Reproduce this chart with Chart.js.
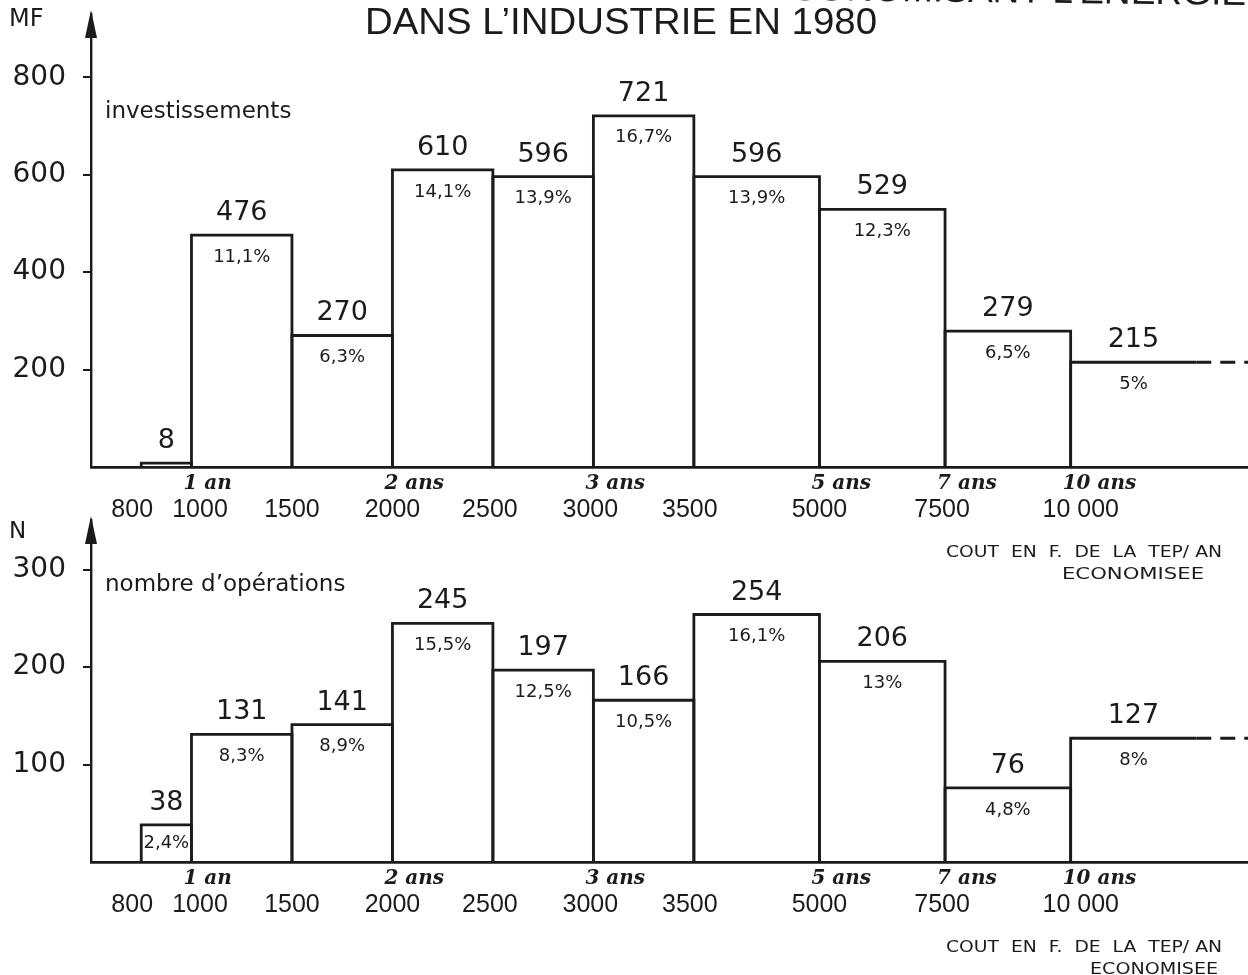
<!DOCTYPE html>
<html>
<head>
<meta charset="utf-8">
<script src="https://cdn.jsdelivr.net/npm/chart.js@4.4.1/dist/chart.umd.min.js"></script>
<style>
  html, body { margin: 0; padding: 0; background: #fff; }
  #wrap { position: relative; width: 1248px; height: 975px; overflow: hidden; background: #fff; }
  canvas { position: absolute; left: 0; }
  #invChart { top: 0; }
  #opChart { top: 470px; }
</style>
</head>
<body>
<div id="wrap">
  <canvas id="invChart" width="1248" height="600"></canvas>
  <canvas id="opChart" width="1248" height="505"></canvas>
</div>
<script>
// cout en F de la TEP/an economisee : bornes basses des classes
const costEdges = ["800", "1000", "1500", "2000", "2500", "3000", "3500", "5000", "7500", "10 000"];
const paybackLabels = ["", "1 an", "", "2 ans", "", "3 ans", "", "5 ans", "7 ans", "10 ans"];

// investissements (MF)
const investValues = [8, 476, 270, 610, 596, 721, 596, 529, 279, 215];
const investShares = ["", "11,1%", "6,3%", "14,1%", "13,9%", "16,7%", "13,9%", "12,3%", "6,5%", "5%"];
const investTicks = [200, 400, 600, 800];

// nombre d'operations (N)
const opsValues = [38, 131, 141, 245, 197, 166, 254, 206, 76, 127];
const opsShares = ["2,4%", "8,3%", "8,9%", "15,5%", "12,5%", "10,5%", "16,1%", "13%", "4,8%", "8%"];
const opsTicks = [100, 200, 300];

// layout: width of each class on the (broken) horizontal axis, and label nudges
const slotWidths = [1, 2, 2, 2, 2, 2, 2.5, 2.5, 2.5, 2.5];
const labelNudge = [-0.18, 0.17, 0, 0, -0.06, -0.06, -0.08, 0, -0.06, 0.2];
const slotEdges = [0];
slotWidths.forEach((w) => slotEdges.push(slotEdges[slotEdges.length - 1] + w));
const X_MIN = -1, X_MAX = 22.03;
const INK = "#1b1b1b";

function barDatasets(values) {
  return values.map((v, i) => {
    const x0 = slotEdges[i], x1 = slotEdges[i + 1];
    const last = i === values.length - 1;
    const pts = [{ x: x0, y: 0 }, { x: x0, y: v }, { x: x1, y: v }];
    pts.push(last ? { x: X_MAX, y: v } : { x: x1, y: 0 });
    return {
      data: pts,
      showLine: true,
      fill: false,
      borderColor: INK,
      borderWidth: 2.8,
      pointRadius: 0,
      clip: false,
      segment: {
        borderDash: (ctx) => (last && ctx.p0DataIndex === 2 ? [15, 9] : undefined),
      },
    };
  });
}

function fitText(ctx, text, x, y, width) {
  const w = ctx.measureText(text).width;
  ctx.save();
  ctx.translate(x, y);
  ctx.scale(width / w, 1);
  ctx.fillText(text, 0, 0);
  ctx.restore();
}

const histoLabels = {
  id: "histoLabels",
  afterDraw(chart, args, o) {
    const { ctx, chartArea, scales } = chart;
    const x = scales.x, y = scales.y;
    ctx.save();
    ctx.fillStyle = INK;
    ctx.textBaseline = "middle";
    ctx.textAlign = "center";

    // values above, shares inside
    o.values.forEach((v, i) => {
      const cx = (x.getPixelForValue(slotEdges[i]) + x.getPixelForValue(slotEdges[i + 1])) / 2;
      const top = y.getPixelForValue(v);
      const h = y.getPixelForValue(0) - top;
      ctx.font = '27px "DejaVu Sans"';
      ctx.fillText(String(v), cx, top - 22);
      if (o.shares[i]) {
        ctx.font = '18px "DejaVu Sans"';
        ctx.fillText(o.shares[i], cx, top + Math.min(22, h / 2));
      }
    });

    // arrow on the vertical axis
    const ax = chartArea.left;
    ctx.beginPath();
    ctx.moveTo(ax, chartArea.top - 4);
    ctx.lineTo(ax - 6, chartArea.top + 24);
    ctx.lineTo(ax + 6, chartArea.top + 24);
    ctx.closePath();
    ctx.fill();

    // unit and series name
    ctx.textAlign = "left";
    ctx.font = o.unitFont;
    ctx.fillText(o.unit, 9, chartArea.top + o.unitDy);
    ctx.font = '23px "DejaVu Sans"';
    ctx.fillText(o.name, ax + 14, chartArea.top + o.nameDy);

    // payback times under the axis
    ctx.font = 'italic bold 20px "DejaVu Serif"';
    paybackLabels.forEach((t, i) => {
      if (!t) return;
      ctx.fillText(t, x.getPixelForValue(slotEdges[i]) - 8, chartArea.bottom + 17);
    });

    // axis title
    ctx.font = '16px "DejaVu Sans"';
    ctx.textAlign = "right";
    fitText(ctx, "COUT  EN  F.  DE  LA  TEP/ AN", 1222, chartArea.bottom + 86, 276);
    fitText(ctx, "ECONOMISEE", o.line2Right, chartArea.bottom + 108, o.line2Width);

    // title (top chart only; the first line is cut by the page edge)
    if (o.title) {
      ctx.font = '36px "Liberation Sans"';
      ctx.textAlign = "center";
      fitText(ctx, "DANS L\u2019INDUSTRIE EN 1980", 621, 24, 512);
      ctx.save();
      ctx.translate(1246, 5);
      ctx.rotate(0.011);
      ctx.textAlign = "right";
      ctx.textBaseline = "alphabetic";
      fitText(ctx, "ECONOMISANT L\u2019ENERGIE", 0, 0, 480);
      ctx.restore();
    }
    ctx.restore();
  },
};

function makeChart(id, values, shares, ticks, yMax, opts) {
  const canvas = document.getElementById(id);
  return new Chart(canvas, {
    type: "scatter",
    data: { datasets: barDatasets(values) },
    plugins: [histoLabels],
    options: {
      responsive: false,
      animation: false,
      events: [],
      layout: { padding: { top: opts.top, left: 0, right: 0, bottom: 0 } },
      plugins: {
        legend: { display: false },
        tooltip: { enabled: false },
        histoLabels: Object.assign({ values: values, shares: shares }, opts),
      },
      scales: {
        x: {
          type: "linear",
          min: X_MIN,
          max: X_MAX,
          afterFit: (s) => {
            s.height = canvas.height - opts.bottom;
            s.paddingLeft = 0;
            s.paddingRight = 0;
          },
          afterBuildTicks: (s) => {
            s.ticks = costEdges.map((_, i) => ({ value: slotEdges[i] + labelNudge[i] }));
          },
          grid: { display: false, drawTicks: false },
          border: { display: true, color: INK, width: 2.8 },
          ticks: {
            autoSkip: false,
            maxRotation: 0,
            padding: 28,
            color: INK,
            font: { family: "Liberation Sans", size: 25 },
            callback: (val, i) => costEdges[i],
          },
        },
        y: {
          min: 0,
          max: yMax,
          afterFit: (s) => {
            s.width = 91;
            s.paddingTop = 0;
            s.paddingBottom = 0;
          },
          afterBuildTicks: (s) => { s.ticks = ticks.map((v) => ({ value: v })); },
          grid: { display: true, drawOnChartArea: false, drawTicks: true, tickLength: 8, color: INK, lineWidth: 2 },
          border: { display: true, color: INK, width: 2.4 },
          ticks: {
            padding: 17,
            color: INK,
            font: { family: "DejaVu Sans", size: 28 },
          },
        },
      },
    },
  });
}

makeChart("invChart", investValues, investShares, investTicks, 930, {
  top: 14, bottom: 467, unit: "MF", unitFont: '24px "DejaVu Sans"', unitDy: 6,
  name: "investissements", nameDy: 98, line2Right: 1204, line2Width: 142, title: true,
});

makeChart("opChart", opsValues, opsShares, opsTicks, 351, {
  top: 50, bottom: 392, unit: "N", unitFont: '23px "DejaVu Sans"', unitDy: 12,
  name: "nombre d\u2019op\u00e9rations", nameDy: 65, line2Right: 1218, line2Width: 128, title: false,
});
</script>
</body>
</html>
